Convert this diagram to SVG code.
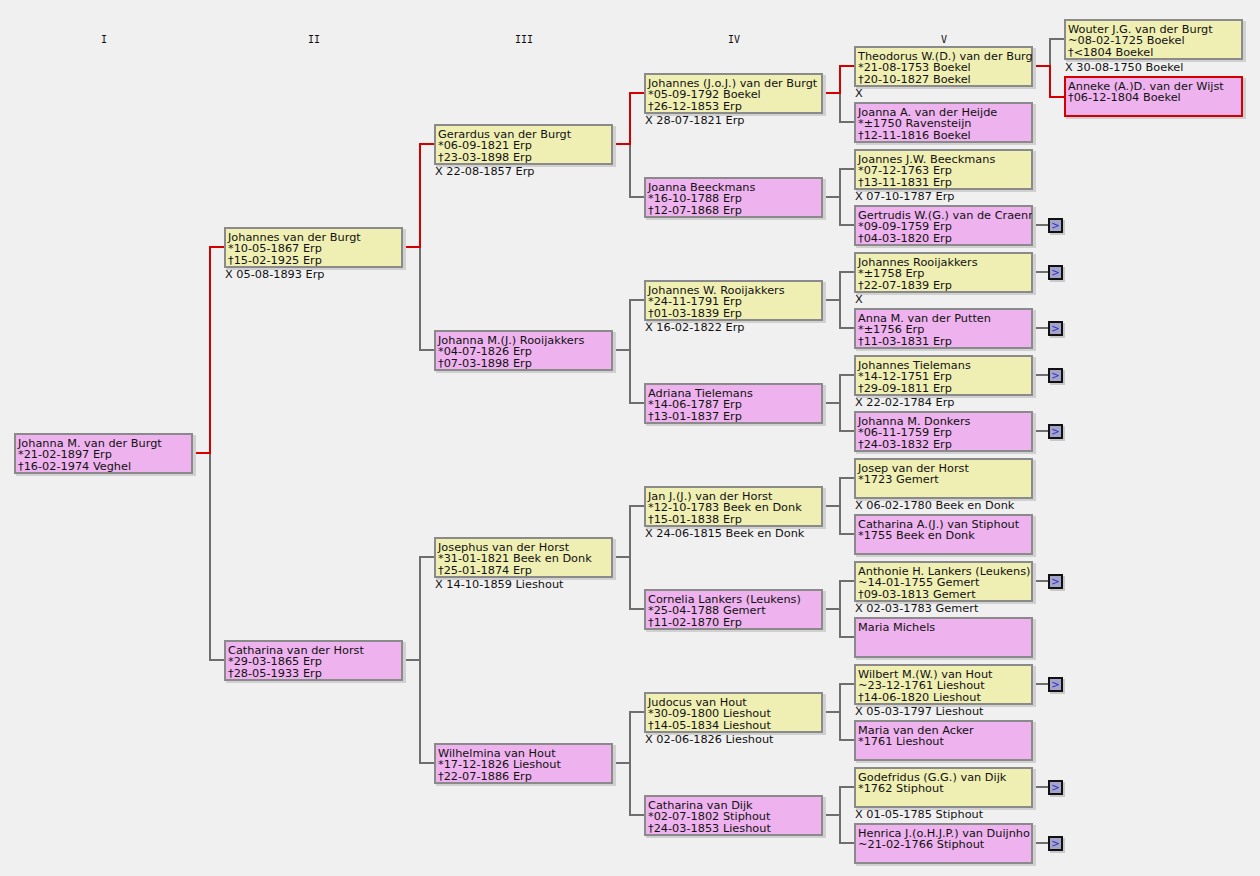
<svg xmlns="http://www.w3.org/2000/svg" width="1260" height="876" viewBox="0 0 1260 876">
<style>
.sh{fill:#d0d0d0}
.m{fill:#efefb3;stroke:#8a8a8a;stroke-width:2}
.f{fill:#eeb3ee;stroke:#8a8a8a;stroke-width:2}
.hl{stroke:#d40000}
text{font-family:"DejaVu Sans",Verdana,sans-serif;font-size:11.3px;fill:#111}
.hd{font-family:"DejaVu Sans Mono",monospace;font-size:10px;text-anchor:middle}
.c{fill:none;stroke:#6e6e6e;stroke-width:2}
.r{fill:none;stroke:#d40000;stroke-width:2}
.bt{fill:#a4a4c8;stroke:#111;stroke-width:2}
.bs{fill:#c8c8c8}
.gt{font-size:10px;fill:#2a2ad0;text-anchor:middle}
</style>
<defs>
<clipPath id="cl5" clipPathUnits="userSpaceOnUse"><rect x="855" y="0" width="177" height="876"/></clipPath>
</defs>
<rect width="1260" height="876" fill="#f0f0f0"/>
<g id="headers">
<text class="hd" x="104" y="43">I</text>
<text class="hd" x="314" y="43">II</text>
<text class="hd" x="524" y="43">III</text>
<text class="hd" x="734" y="43">IV</text>
<text class="hd" x="944" y="43">V</text>
</g>
<g id="connectors">
<path class="c" d="M210,453 V660 H224"/>
<path class="c" d="M420,247 V350 H434"/>
<path class="c" d="M403,660 H420 M434,557 H420 V763 H434"/>
<path class="c" d="M630,144 V197 H644"/>
<path class="c" d="M613,350 H630 M644,300 H630 V403 H644"/>
<path class="c" d="M613,557 H630 M644,506 H630 V609 H644"/>
<path class="c" d="M613,763 H630 M644,712 H630 V815 H644"/>
<path class="c" d="M840,93 V122 H854"/>
<path class="c" d="M823,197 H840 M854,169 H840 V225 H854"/>
<path class="c" d="M823,300 H840 M854,272 H840 V328 H854"/>
<path class="c" d="M823,403 H840 M854,375 H840 V431 H854"/>
<path class="c" d="M823,506 H840 M854,478 H840 V534 H854"/>
<path class="c" d="M823,609 H840 M854,581 H840 V637 H854"/>
<path class="c" d="M823,712 H840 M854,684 H840 V740 H854"/>
<path class="c" d="M823,815 H840 M854,787 H840 V843 H854"/>
<path class="c" d="M1050,66 V39 H1064"/>
<path class="c" d="M1033,225 H1048 M1033,272 H1048 M1033,328 H1048 M1033,375 H1048 M1033,431 H1048 M1033,581 H1048 M1033,684 H1048 M1033,787 H1048 M1033,843 H1048"/>
<path class="r" d="M193,453 H210 V247 H224"/>
<path class="r" d="M403,247 H420 V144 H434"/>
<path class="r" d="M613,144 H630 V93 H644"/>
<path class="r" d="M823,93 H840 V66 H854"/>
<path class="r" d="M1033,66 H1050 V97 H1064"/>
</g>

<g id="n1">
<rect class="sh" x="16" y="435" width="180" height="41"/>
<rect class="f" x="15" y="434" width="177" height="39"/>
<text x="18" y="446.5">Johanna M. van der Burgt</text>
<text x="18" y="458">*21-02-1897 Erp</text>
<text x="18" y="469.5">†16-02-1974 Veghel</text>
</g>

<g id="n2">
<rect class="sh" x="226" y="229" width="180" height="41"/>
<rect class="m" x="225" y="228" width="177" height="39"/>
<text x="228" y="240.5">Johannes van der Burgt</text>
<text x="228" y="252">*10-05-1867 Erp</text>
<text x="228" y="263.5">†15-02-1925 Erp</text>
<text x="225" y="278">X 05-08-1893 Erp</text>
</g>
<g id="n3">
<rect class="sh" x="226" y="642" width="180" height="41"/>
<rect class="f" x="225" y="641" width="177" height="39"/>
<text x="228" y="653.5">Catharina van der Horst</text>
<text x="228" y="665">*29-03-1865 Erp</text>
<text x="228" y="676.5">†28-05-1933 Erp</text>
</g>

<g id="n4">
<rect class="sh" x="436" y="126" width="180" height="41"/>
<rect class="m" x="435" y="125" width="177" height="39"/>
<text x="438" y="137.5">Gerardus van der Burgt</text>
<text x="438" y="149">*06-09-1821 Erp</text>
<text x="438" y="160.5">†23-03-1898 Erp</text>
<text x="435" y="175">X 22-08-1857 Erp</text>
</g>
<g id="n5">
<rect class="sh" x="436" y="332" width="180" height="41"/>
<rect class="f" x="435" y="331" width="177" height="39"/>
<text x="438" y="343.5">Johanna M.(J.) Rooijakkers</text>
<text x="438" y="355">*04-07-1826 Erp</text>
<text x="438" y="366.5">†07-03-1898 Erp</text>
</g>
<g id="n6">
<rect class="sh" x="436" y="539" width="180" height="41"/>
<rect class="m" x="435" y="538" width="177" height="39"/>
<text x="438" y="550.5">Josephus van der Horst</text>
<text x="438" y="562">*31-01-1821 Beek en Donk</text>
<text x="438" y="573.5">†25-01-1874 Erp</text>
<text x="435" y="588">X 14-10-1859 Lieshout</text>
</g>
<g id="n7">
<rect class="sh" x="436" y="745" width="180" height="41"/>
<rect class="f" x="435" y="744" width="177" height="39"/>
<text x="438" y="756.5">Wilhelmina van Hout</text>
<text x="438" y="768">*17-12-1826 Lieshout</text>
<text x="438" y="779.5">†22-07-1886 Erp</text>
</g>

<g id="n8">
<rect class="sh" x="646" y="75" width="180" height="41"/>
<rect class="m" x="645" y="74" width="177" height="39"/>
<text x="648" y="86.5">Johannes (J.o.J.) van der Burgt</text>
<text x="648" y="98">*05-09-1792 Boekel</text>
<text x="648" y="109.5">†26-12-1853 Erp</text>
<text x="645" y="124">X 28-07-1821 Erp</text>
</g>
<g id="n9">
<rect class="sh" x="646" y="179" width="180" height="41"/>
<rect class="f" x="645" y="178" width="177" height="39"/>
<text x="648" y="190.5">Joanna Beeckmans</text>
<text x="648" y="202">*16-10-1788 Erp</text>
<text x="648" y="213.5">†12-07-1868 Erp</text>
</g>
<g id="n10">
<rect class="sh" x="646" y="282" width="180" height="41"/>
<rect class="m" x="645" y="281" width="177" height="39"/>
<text x="648" y="293.5">Johannes W. Rooijakkers</text>
<text x="648" y="305">*24-11-1791 Erp</text>
<text x="648" y="316.5">†01-03-1839 Erp</text>
<text x="645" y="331">X 16-02-1822 Erp</text>
</g>
<g id="n11">
<rect class="sh" x="646" y="385" width="180" height="41"/>
<rect class="f" x="645" y="384" width="177" height="39"/>
<text x="648" y="396.5">Adriana Tielemans</text>
<text x="648" y="408">*14-06-1787 Erp</text>
<text x="648" y="419.5">†13-01-1837 Erp</text>
</g>
<g id="n12">
<rect class="sh" x="646" y="488" width="180" height="41"/>
<rect class="m" x="645" y="487" width="177" height="39"/>
<text x="648" y="499.5">Jan J.(J.) van der Horst</text>
<text x="648" y="511">*12-10-1783 Beek en Donk</text>
<text x="648" y="522.5">†15-01-1838 Erp</text>
<text x="645" y="537">X 24-06-1815 Beek en Donk</text>
</g>
<g id="n13">
<rect class="sh" x="646" y="591" width="180" height="41"/>
<rect class="f" x="645" y="590" width="177" height="39"/>
<text x="648" y="602.5">Cornelia Lankers (Leukens)</text>
<text x="648" y="614">*25-04-1788 Gemert</text>
<text x="648" y="625.5">†11-02-1870 Erp</text>
</g>
<g id="n14">
<rect class="sh" x="646" y="694" width="180" height="41"/>
<rect class="m" x="645" y="693" width="177" height="39"/>
<text x="648" y="705.5">Judocus van Hout</text>
<text x="648" y="717">*30-09-1800 Lieshout</text>
<text x="648" y="728.5">†14-05-1834 Lieshout</text>
<text x="645" y="743">X 02-06-1826 Lieshout</text>
</g>
<g id="n15">
<rect class="sh" x="646" y="797" width="180" height="41"/>
<rect class="f" x="645" y="796" width="177" height="39"/>
<text x="648" y="808.5">Catharina van Dijk</text>
<text x="648" y="820">*02-07-1802 Stiphout</text>
<text x="648" y="831.5">†24-03-1853 Lieshout</text>
</g>

<g id="n16">
<rect class="sh" x="856" y="48" width="180" height="41"/>
<rect class="m" x="855" y="47" width="177" height="39"/>
<text x="858" y="59.5" clip-path="url(#cl5)">Theodorus W.(D.) van der Burg</text>
<text x="858" y="71">*21-08-1753 Boekel</text>
<text x="858" y="82.5">†20-10-1827 Boekel</text>
<text x="855" y="97">X</text>
</g>
<g id="n17">
<rect class="sh" x="856" y="104" width="180" height="41"/>
<rect class="f" x="855" y="103" width="177" height="39"/>
<text x="858" y="115.5">Joanna A. van der Heijde</text>
<text x="858" y="127">*±1750 Ravensteijn</text>
<text x="858" y="138.5">†12-11-1816 Boekel</text>
</g>
<g id="n18">
<rect class="sh" x="856" y="151" width="180" height="41"/>
<rect class="m" x="855" y="150" width="177" height="39"/>
<text x="858" y="162.5">Joannes J.W. Beeckmans</text>
<text x="858" y="174">*07-12-1763 Erp</text>
<text x="858" y="185.5">†13-11-1831 Erp</text>
<text x="855" y="200">X 07-10-1787 Erp</text>
</g>
<g id="n19">
<rect class="sh" x="856" y="207" width="180" height="41"/>
<rect class="f" x="855" y="206" width="177" height="39"/>
<text x="858" y="218.5" clip-path="url(#cl5)">Gertrudis W.(G.) van de Craenr</text>
<text x="858" y="230">*09-09-1759 Erp</text>
<text x="858" y="241.5">†04-03-1820 Erp</text>
<rect class="bs" x="1050" y="220" width="15" height="15"/>
<rect class="bt" x="1049" y="219" width="13" height="13"/>
<text class="gt" x="1055.5" y="229">&gt;</text>
</g>
<g id="n20">
<rect class="sh" x="856" y="254" width="180" height="41"/>
<rect class="m" x="855" y="253" width="177" height="39"/>
<text x="858" y="265.5">Johannes Rooijakkers</text>
<text x="858" y="277">*±1758 Erp</text>
<text x="858" y="288.5">†22-07-1839 Erp</text>
<text x="855" y="303">X</text>
<rect class="bs" x="1050" y="267" width="15" height="15"/>
<rect class="bt" x="1049" y="266" width="13" height="13"/>
<text class="gt" x="1055.5" y="276">&gt;</text>
</g>
<g id="n21">
<rect class="sh" x="856" y="310" width="180" height="41"/>
<rect class="f" x="855" y="309" width="177" height="39"/>
<text x="858" y="321.5">Anna M. van der Putten</text>
<text x="858" y="333">*±1756 Erp</text>
<text x="858" y="344.5">†11-03-1831 Erp</text>
<rect class="bs" x="1050" y="323" width="15" height="15"/>
<rect class="bt" x="1049" y="322" width="13" height="13"/>
<text class="gt" x="1055.5" y="332">&gt;</text>
</g>
<g id="n22">
<rect class="sh" x="856" y="357" width="180" height="41"/>
<rect class="m" x="855" y="356" width="177" height="39"/>
<text x="858" y="368.5">Johannes Tielemans</text>
<text x="858" y="380">*14-12-1751 Erp</text>
<text x="858" y="391.5">†29-09-1811 Erp</text>
<text x="855" y="406">X 22-02-1784 Erp</text>
<rect class="bs" x="1050" y="370" width="15" height="15"/>
<rect class="bt" x="1049" y="369" width="13" height="13"/>
<text class="gt" x="1055.5" y="379">&gt;</text>
</g>
<g id="n23">
<rect class="sh" x="856" y="413" width="180" height="41"/>
<rect class="f" x="855" y="412" width="177" height="39"/>
<text x="858" y="424.5">Johanna M. Donkers</text>
<text x="858" y="436">*06-11-1759 Erp</text>
<text x="858" y="447.5">†24-03-1832 Erp</text>
<rect class="bs" x="1050" y="426" width="15" height="15"/>
<rect class="bt" x="1049" y="425" width="13" height="13"/>
<text class="gt" x="1055.5" y="435">&gt;</text>
</g>
<g id="n24">
<rect class="sh" x="856" y="460" width="180" height="41"/>
<rect class="m" x="855" y="459" width="177" height="39"/>
<text x="858" y="471.5">Josep van der Horst</text>
<text x="858" y="483">*1723 Gemert</text>
<text x="855" y="509">X 06-02-1780 Beek en Donk</text>
</g>
<g id="n25">
<rect class="sh" x="856" y="516" width="180" height="41"/>
<rect class="f" x="855" y="515" width="177" height="39"/>
<text x="858" y="527.5">Catharina A.(J.) van Stiphout</text>
<text x="858" y="539">*1755 Beek en Donk</text>
</g>
<g id="n26">
<rect class="sh" x="856" y="563" width="180" height="41"/>
<rect class="m" x="855" y="562" width="177" height="39"/>
<text x="858" y="574.5" clip-path="url(#cl5)">Anthonie H. Lankers (Leukens)</text>
<text x="858" y="586">~14-01-1755 Gemert</text>
<text x="858" y="597.5">†09-03-1813 Gemert</text>
<text x="855" y="612">X 02-03-1783 Gemert</text>
<rect class="bs" x="1050" y="576" width="15" height="15"/>
<rect class="bt" x="1049" y="575" width="13" height="13"/>
<text class="gt" x="1055.5" y="585">&gt;</text>
</g>
<g id="n27">
<rect class="sh" x="856" y="619" width="180" height="41"/>
<rect class="f" x="855" y="618" width="177" height="39"/>
<text x="858" y="630.5">Maria Michels</text>
</g>
<g id="n28">
<rect class="sh" x="856" y="666" width="180" height="41"/>
<rect class="m" x="855" y="665" width="177" height="39"/>
<text x="858" y="677.5">Wilbert M.(W.) van Hout</text>
<text x="858" y="689">~23-12-1761 Lieshout</text>
<text x="858" y="700.5">†14-06-1820 Lieshout</text>
<text x="855" y="715">X 05-03-1797 Lieshout</text>
<rect class="bs" x="1050" y="679" width="15" height="15"/>
<rect class="bt" x="1049" y="678" width="13" height="13"/>
<text class="gt" x="1055.5" y="688">&gt;</text>
</g>
<g id="n29">
<rect class="sh" x="856" y="722" width="180" height="41"/>
<rect class="f" x="855" y="721" width="177" height="39"/>
<text x="858" y="733.5">Maria van den Acker</text>
<text x="858" y="745">*1761 Lieshout</text>
</g>
<g id="n30">
<rect class="sh" x="856" y="769" width="180" height="41"/>
<rect class="m" x="855" y="768" width="177" height="39"/>
<text x="858" y="780.5">Godefridus (G.G.) van Dijk</text>
<text x="858" y="792">*1762 Stiphout</text>
<text x="855" y="818">X 01-05-1785 Stiphout</text>
<rect class="bs" x="1050" y="782" width="15" height="15"/>
<rect class="bt" x="1049" y="781" width="13" height="13"/>
<text class="gt" x="1055.5" y="791">&gt;</text>
</g>
<g id="n31">
<rect class="sh" x="856" y="825" width="180" height="41"/>
<rect class="f" x="855" y="824" width="177" height="39"/>
<text x="858" y="836.5" clip-path="url(#cl5)">Henrica J.(o.H.J.P.) van Duijnho</text>
<text x="858" y="848">~21-02-1766 Stiphout</text>
<rect class="bs" x="1050" y="838" width="15" height="15"/>
<rect class="bt" x="1049" y="837" width="13" height="13"/>
<text class="gt" x="1055.5" y="847">&gt;</text>
</g>

<g id="n32">
<rect class="sh" x="1066" y="21" width="180" height="41"/>
<rect class="m" x="1065" y="20" width="177" height="39"/>
<text x="1068" y="32.5">Wouter J.G. van der Burgt</text>
<text x="1068" y="44">~08-02-1725 Boekel</text>
<text x="1068" y="55.5">†&lt;1804 Boekel</text>
<text x="1065" y="71">X 30-08-1750 Boekel</text>
</g>
<g id="n33">
<rect class="sh" x="1066" y="78" width="180" height="41"/>
<rect class="f hl" x="1065" y="77" width="177" height="39"/>
<text x="1068" y="89.5">Anneke (A.)D. van der Wijst</text>
<text x="1068" y="101">†06-12-1804 Boekel</text>
</g>
</svg>
